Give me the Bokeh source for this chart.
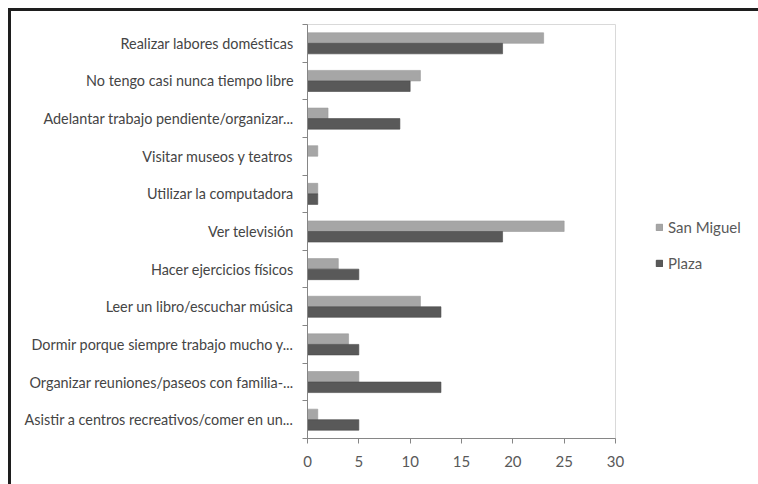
from bokeh.plotting import figure
from bokeh.layouts import row
from bokeh.models import ColumnDataSource, FixedTicker, Legend, LegendItem, Range1d
from bokeh.embed import file_html
from bokeh.resources import INLINE

categories = [
    "Realizar labores domésticas",
    "No tengo casi nunca tiempo libre",
    "Adelantar trabajo pendiente/organizar...",
    "Visitar museos y teatros",
    "Utilizar la computadora",
    "Ver televisión",
    "Hacer ejercicios físicos",
    "Leer un libro/escuchar música",
    "Dormir porque siempre trabajo mucho y...",
    "Organizar reuniones/paseos con familia-...",
    "Asistir a centros recreativos/comer en un...",
]
series_names = ["San Miguel", "Plaza"]
san_miguel = [23, 11, 2, 1, 1, 25, 3, 11, 4, 5, 1]
plaza = [19, 10, 9, 0, 1, 19, 5, 13, 5, 13, 5]
x_ticks = [0, 5, 10, 15, 20, 25, 30]

n = len(categories)
centers = [n - i - 0.5 for i in range(n)]
bar_h = 0.28

src = ColumnDataSource(dict(
    cat=categories,
    y_sm=[c + bar_h / 2 for c in centers],
    y_pl=[c - bar_h / 2 for c in centers],
    sm=san_miguel,
    pl=plaza,
))

FONT = "Lato"
TXT = "#595959"
C_SM, L_SM = "#a6a6a6", "#9a9a9a"
C_PL, L_PL = "#595959", "#4a4a4a"

p = figure(width=620, height=473, output_backend="svg", toolbar_location=None,
           x_range=Range1d(0, 30), y_range=Range1d(0, n),
           min_border_left=296, min_border_right=16, min_border_top=13, min_border_bottom=46)
p.background_fill_color = "white"
p.border_fill_color = "white"
p.outline_line_color = "#d9d9d9"
p.outline_line_width = 1
p.xgrid.visible = False
p.ygrid.visible = False

p.hbar(y="y_sm", right="sm", left=0, height=bar_h, source=src,
       fill_color=C_SM, line_color=L_SM, line_width=0.6)
p.hbar(y="y_pl", right="pl", left=0, height=bar_h, source=src,
       fill_color=C_PL, line_color=L_PL, line_width=0.6)

# x axis
p.xaxis.ticker = FixedTicker(ticks=x_ticks)
p.xaxis.axis_line_color = "#868686"
p.xaxis.major_tick_line_color = "#868686"
p.xaxis.major_tick_out = 5
p.xaxis.major_tick_in = 0
p.xaxis.minor_tick_line_color = None
p.xaxis.major_label_text_font = FONT
p.xaxis.major_label_text_font_size = "15px"
p.xaxis.major_label_text_color = TXT
p.xaxis.major_label_standoff = 12

# y axis: labels at centres, ticks at boundaries
p.yaxis.ticker = FixedTicker(ticks=centers, minor_ticks=list(range(n + 1)))
p.yaxis.major_label_overrides = {c: lab for c, lab in zip(centers, categories)}
p.yaxis.axis_line_color = "#868686"
p.yaxis.major_tick_line_color = None
p.yaxis.major_tick_out = 0
p.yaxis.major_tick_in = 0
p.yaxis.minor_tick_line_color = "#868686"
p.yaxis.minor_tick_out = 5
p.yaxis.minor_tick_in = 0
p.yaxis.major_label_text_font = FONT
p.yaxis.major_label_text_font_size = "14.4px"
p.yaxis.major_label_text_color = "#454545"
p.yaxis.major_label_standoff = 9

# legend panel
lg = figure(width=127, height=473, output_backend="svg", toolbar_location=None,
            x_range=Range1d(0, 1), y_range=Range1d(0, 1),
            x_axis_location=None, y_axis_location=None,
            min_border_left=0, min_border_right=0, min_border_top=0, min_border_bottom=0)
lg.grid.visible = False
lg.outline_line_color = None
lg.background_fill_color = "white"
lg.border_fill_color = "white"
swatch = ColumnDataSource(dict(y=[0.5], r=[0.5]))
g_sm = lg.hbar(y="y", right="r", left=0, height=0.1, source=swatch, fill_color=C_SM, line_color=L_SM)
g_pl = lg.hbar(y="y", right="r", left=0, height=0.1, source=swatch, fill_color=C_PL, line_color=L_PL)
g_sm.visible = False
g_pl.visible = False

legend = Legend(items=[LegendItem(label=series_names[0], renderers=[g_sm]),
                       LegendItem(label=series_names[1], renderers=[g_pl])],
                location=(24, 165), orientation="vertical")
legend.label_text_font = FONT
legend.label_text_font_size = "15px"
legend.label_text_color = TXT
legend.glyph_width = 8
legend.glyph_height = 8
legend.label_height = 20
legend.spacing = 16
legend.border_line_color = None
legend.background_fill_alpha = 0
legend.inactive_fill_alpha = 0
legend.padding = 0
legend.margin = 0
legend.label_standoff = 5
lg.add_layout(legend)

layout = row(p, lg)
layout.styles = {"border-left": "3px solid #1e1e1e", "border-top": "3px solid #1e1e1e",
                 "margin-left": "8px", "margin-top": "8px"}

open("out.html", "w").write(file_html(layout, INLINE))
